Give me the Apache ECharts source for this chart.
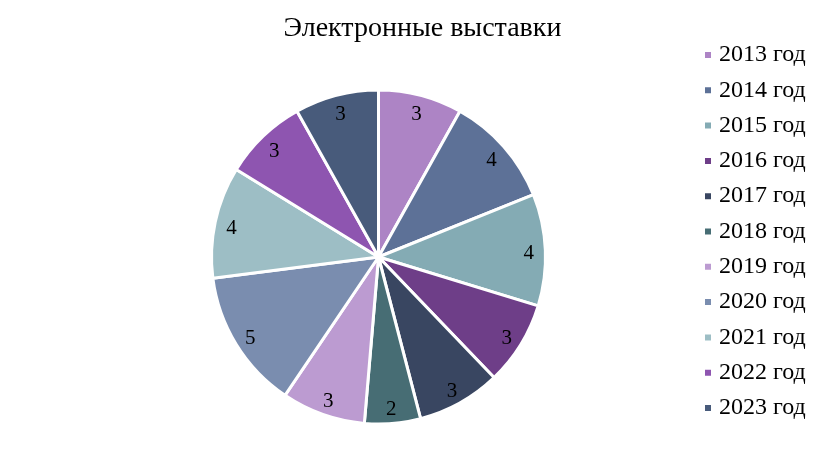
<!DOCTYPE html>
<html><head><meta charset="utf-8">
<script src="https://cdn.jsdelivr.net/npm/echarts@6/dist/echarts.min.js"></script>
<style>html,body{margin:0;padding:0;background:#fff}#c{width:829px;height:460px}</style>
</head><body><div id="c"></div>
<script>
var categories = ['2013 год','2014 год','2015 год','2016 год','2017 год','2018 год','2019 год','2020 год','2021 год','2022 год','2023 год'];
var values = [3,4,4,3,3,2,3,5,4,3,3];
var colors = ['#AD84C5','#5D7197','#84ABB4','#6E3E88','#394661','#476D74','#BC9BD1','#7A8DAF','#9DBEC5','#8E55B0','#485B7B'];
var titleText = 'Электронные выставки';

var data = categories.map(function(c,i){return {name:c, value:values[i], itemStyle:{color:colors[i]}};});
var chart = echarts.init(document.getElementById('c'));
var center = [378.5, 257];
chart.setOption({
  animation:false,
  title:{text:titleText, left:417.5, textAlign:'center', top:10,
    textStyle:{fontFamily:'Liberation Serif', fontSize:28, fontWeight:'normal', color:'#000'}},
  legend:{orient:'vertical', left:698, top:38, itemWidth:8, itemHeight:8, itemGap:11.3,
    icon:'rect', data:categories,
    textStyle:{fontFamily:'Liberation Serif', fontSize:24, color:'#000', lineHeight:24, padding:[0,0,0,2]}},
  series:[
    {type:'pie', center:center, radius:167, startAngle:90, clockwise:true,
     label:{show:false}, labelLine:{show:false}, silent:true,
     itemStyle:{borderColor:'#fff', borderWidth:3},
     data:data},
    {type:'pie', center:center, radius:[128,167], startAngle:90, clockwise:true,
     silent:true, legendHoverLink:false,
     itemStyle:{color:'rgba(0,0,0,0)', borderWidth:0},
     label:{show:true, position:'inside', formatter:'{c}', fontFamily:'Liberation Serif', fontSize:21, color:'#000', offset:[0,3]},
     labelLine:{show:false},
     data:categories.map(function(c,i){return {name:c+' ', value:values[i]};})}
  ]
});
</script></body></html>
